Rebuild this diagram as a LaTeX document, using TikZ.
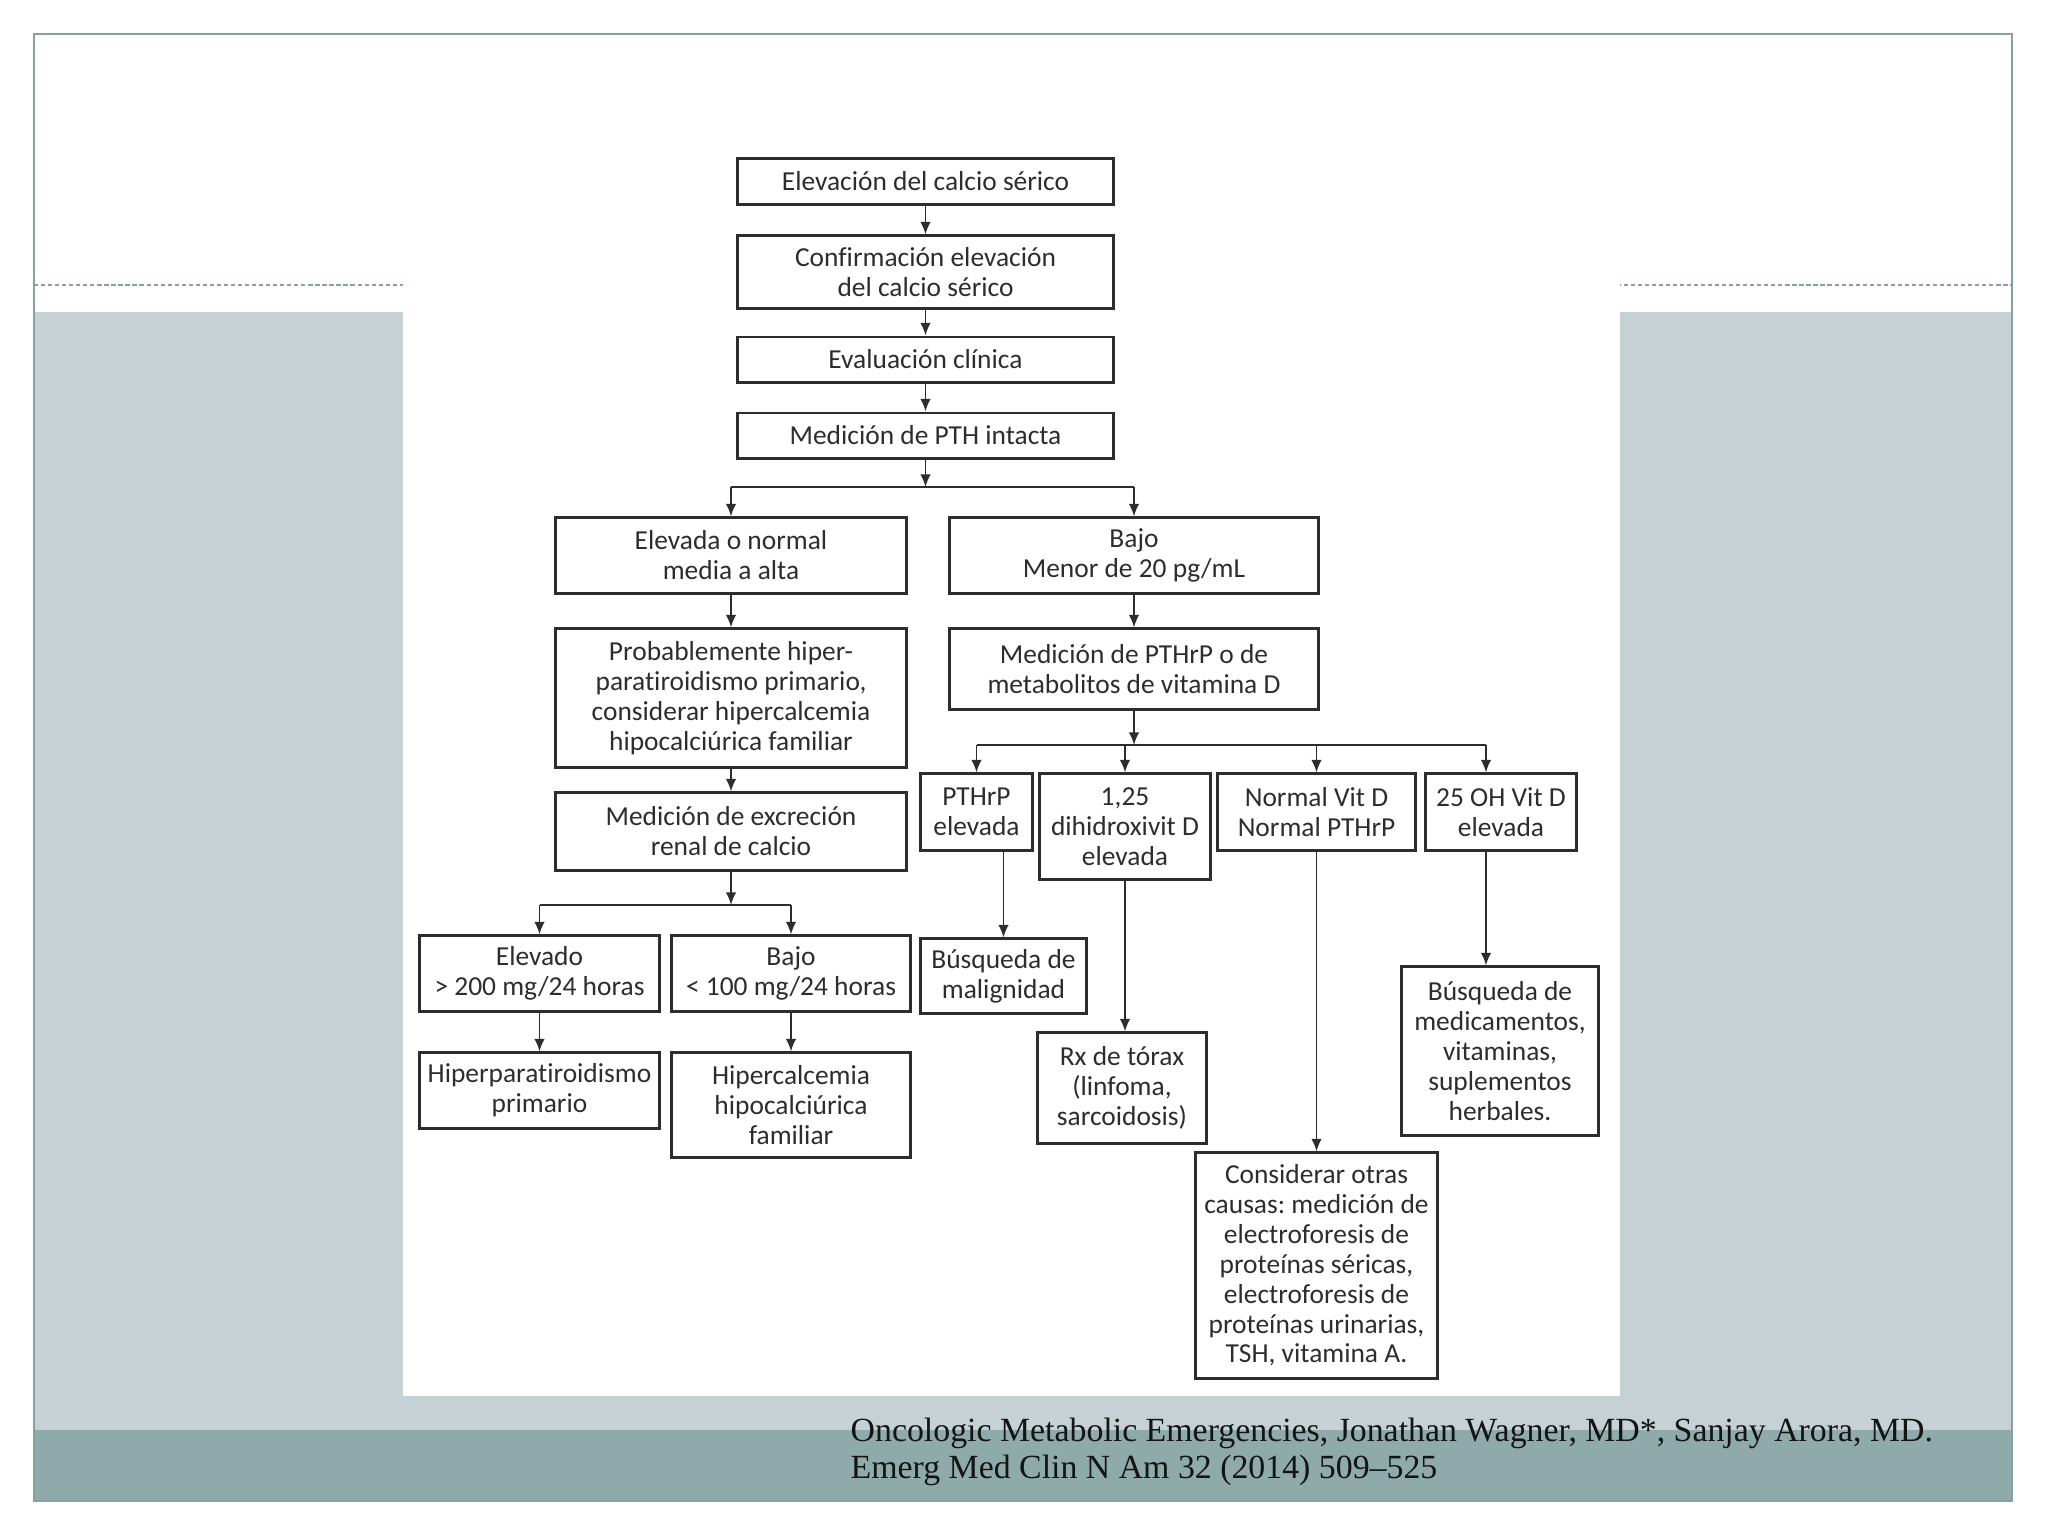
\documentclass[tikz,border=0pt]{standalone}
\usepackage{fontspec}
\setmainfont{Liberation Serif}
\newfontfamily\cajafont[Ligatures=NoCommon]{Carlito}
\usetikzlibrary{arrows.meta}
\definecolor{gris}{RGB}{197,209,212}
\definecolor{banda}{RGB}{143,170,170}
\definecolor{borde}{RGB}{132,163,158}
\definecolor{tinta}{RGB}{45,45,45}
\frenchspacing
\begin{document}
\begin{tikzpicture}[x=0.01cm,y=-0.01cm,
		caja/.style={draw=tinta,line width=0.85pt,fill=white,align=center,inner sep=0pt,text=tinta,font=\cajafont\fontsize{7.8}{8.5}\selectfont},
		flecha/.style={draw=tinta,line width=0.55pt,-{Latex[length=3.6pt,width=3pt]}},
		linea/.style={draw=tinta,line width=0.55pt}]
			\useasboundingbox (0,0) rectangle (2048,1536);
			% fondo de la diapositiva
			\fill [white] (0,0) rectangle (2048,1536);
			\fill [gris] (34,312) rectangle (2012,1430);
			\fill [banda] (34,1430) rectangle (2012,1501);
			\draw [borde,line width=0.8pt,dash pattern=on 1.2pt off 0.8pt] (34,285) -- (2012,285);
			\fill [white] (403,250) rectangle (1620,1396);
			\draw [borde,line width=0.7pt] (34,34) rectangle (2012,1501);
			% columna central
			\node [caja,minimum width=3.75cm,minimum height=0.45cm] (b1) at (925.5,181.5) {Elevación del calcio sérico};
			\node [caja,minimum width=3.75cm,minimum height=0.72cm] (b2) at (925.5,272) {Confirmación elevación\\del calcio sérico};
			\node [caja,minimum width=3.75cm,minimum height=0.45cm] (b3) at (925.5,359.5) {Evaluación clínica};
			\node [caja,minimum width=3.75cm,minimum height=0.45cm] (b4) at (925.5,435.5) {Medición de PTH intacta};
			% rama izquierda
			\node [caja,minimum width=3.5cm,minimum height=0.75cm] (elev) at (731,555.5) {Elevada o normal\\media a alta};
			\node [caja,minimum width=3.5cm,minimum height=1.38cm] (prob) at (731,698) {Probablemente hiper-\\paratiroidismo primario,\\considerar hipercalcemia\\hipocalciúrica familiar};
			\node [caja,minimum width=3.5cm,minimum height=0.77cm] (excr) at (731,831.5) {Medición de excreción\\renal de calcio};
			\node [caja,minimum width=2.39cm,minimum height=0.75cm] (alto) at (539.5,973.5) {Elevado\\> 200 mg/24 horas};
			\node [caja,minimum width=2.38cm,minimum height=0.75cm] (bajoc) at (791,973.5) {Bajo\\< 100 mg/24 horas};
			\node [caja,minimum width=2.39cm,minimum height=0.75cm] (hpt) at (539.5,1090.5) {Hiperparatiroidismo\\primario};
			\node [caja,minimum width=2.38cm,minimum height=1.04cm] (hhf) at (791,1105) {Hipercalcemia\\hipocalciúrica\\familiar};
			% rama derecha
			\node [caja,minimum width=3.68cm,minimum height=0.75cm] (bajo) at (1134,555.5) {Bajo\\Menor de 20 pg/mL};
			\node [caja,minimum width=3.68cm,minimum height=0.8cm] (pthrp) at (1134,669) {Medición de PTHrP o de\\metabolitos de vitamina D};
			\node [caja,minimum width=1.11cm,minimum height=0.76cm] (pe) at (976.5,812) {PTHrP\\elevada};
			\node [caja,minimum width=1.7cm,minimum height=1.05cm] (dih) at (1125,826.5) {1,25\\dihidroxivit D\\elevada};
			\node [caja,minimum width=1.97cm,minimum height=0.76cm] (nvd) at (1316.5,812) {Normal Vit D\\Normal PTHrP};
			\node [caja,minimum width=1.5cm,minimum height=0.76cm] (ohd) at (1501,812) {25 OH Vit D\\elevada};
			\node [caja,minimum width=1.65cm,minimum height=0.74cm] (mal) at (1003.5,976) {Búsqueda de\\malignidad};
			\node [caja,minimum width=1.68cm,minimum height=1.1cm] (rx) at (1122,1088) {Rx de tórax\\(linfoma,\\sarcoidosis)};
			\node [caja,minimum width=1.96cm,minimum height=1.68cm] (meds) at (1500,1051) {Búsqueda de\\medicamentos,\\vitaminas,\\suplementos\\herbales.};
			\node [caja,minimum width=2.41cm,minimum height=2.25cm] (otras) at (1316.5,1265.5) {Considerar otras\\causas: medición de\\electroforesis de\\proteínas séricas,\\electroforesis de\\proteínas urinarias,\\TSH, vitamina A.};
			% uniones
			\coordinate (j0) at (925.5,487);
			\coordinate (j1) at (1134,745);
			\coordinate (j1r) at (1486,745);
			\coordinate (j2) at (731,905);
			% conectores
			\draw [flecha] (b1) to (b2);
			\draw [flecha] (b2) to (b3);
			\draw [flecha] (b3) to (b4);
			\draw [flecha] (b4.south) to (j0);
			\draw [linea] (elev.north |- j0) to (bajo.north |- j0);
			\draw [flecha] (elev.north |- j0) to (elev.north);
			\draw [flecha] (bajo.north |- j0) to (bajo.north);
			\draw [flecha] (elev) to (prob);
			\draw [flecha] (prob) to (excr);
			\draw [flecha] (excr.south) to (j2);
			\draw [linea] (alto.north |- j2) to (bajoc.north |- j2);
			\draw [flecha] (alto.north |- j2) to (alto.north);
			\draw [flecha] (bajoc.north |- j2) to (bajoc.north);
			\draw [flecha] (alto) to (hpt);
			\draw [flecha] (bajoc) to (hhf);
			\draw [flecha] (bajo) to (pthrp);
			\draw [flecha] (pthrp.south) to (j1);
			\draw [linea] (pe.north |- j1) to (j1r);
			\draw [flecha] (pe.north |- j1) to (pe.north);
			\draw [flecha] (dih.north |- j1) to (dih.north);
			\draw [flecha] (nvd.north |- j1) to (nvd.north);
			\draw [flecha] (j1r) to (j1r |- ohd.north);
			\draw [flecha] (pe.south -| mal) to (mal.north);
			\draw [flecha] (dih.south) to (dih.south |- rx.north);
			\draw [flecha] (nvd) to (otras);
			\draw [flecha] (ohd.south -| j1r) to (j1r |- meds.north);
			% referencia
			\node [anchor=north west,inner sep=0pt,align=left,text=black!92,font=\fontsize{9.62}{10.5}\selectfont] (cita) at (850,1417) {Oncologic Metabolic Emergencies, Jonathan Wagner, MD*, Sanjay Arora, MD.\\Emerg Med Clin N Am 32 (2014) 509–525};
		\end{tikzpicture}
\end{document}
